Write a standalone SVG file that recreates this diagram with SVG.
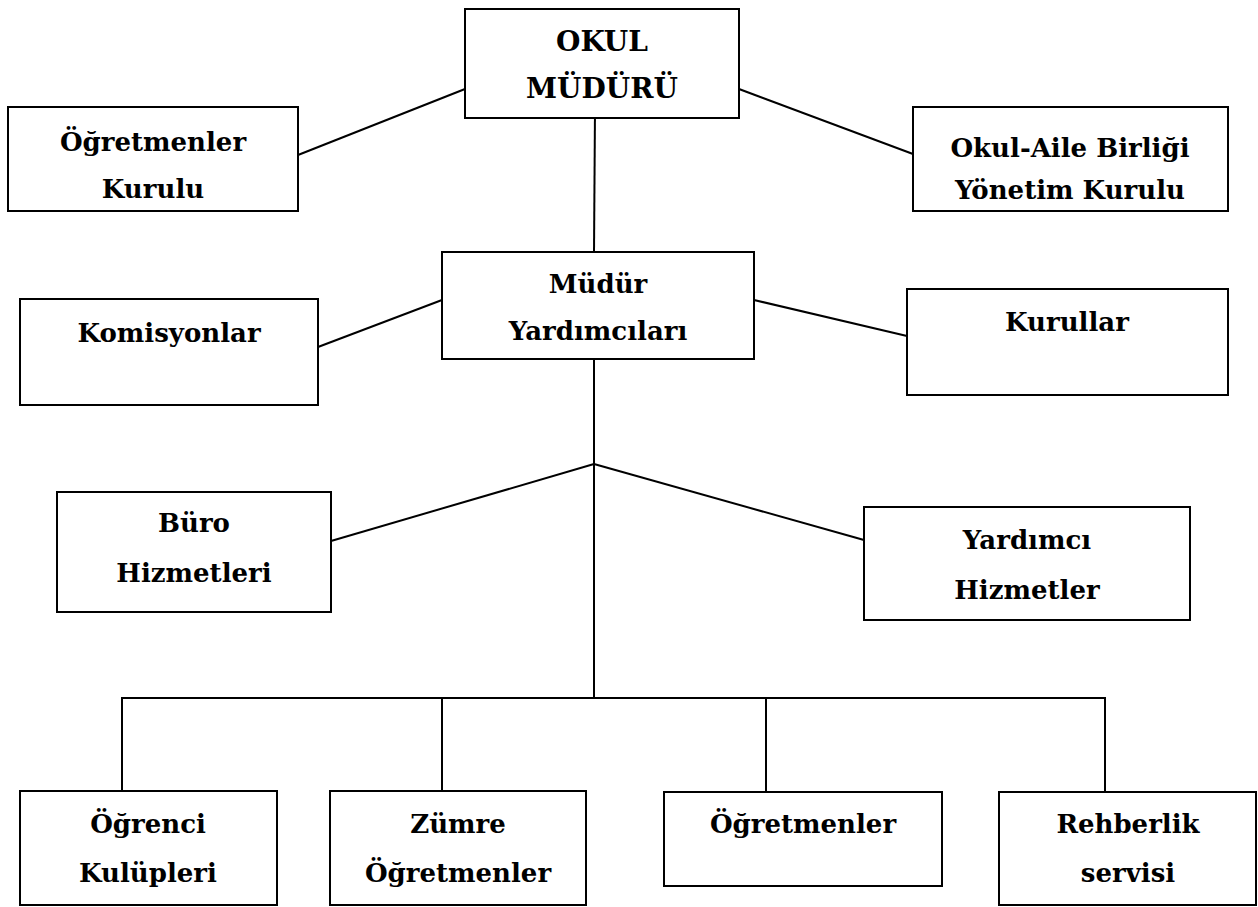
<svg xmlns="http://www.w3.org/2000/svg" width="1258" height="907" viewBox="0 0 1258 907">
<style>
.box{fill:#fff;stroke:#000;stroke-width:2}
.ln{stroke:#000;stroke-width:2;fill:none}
.t{font-family:"DejaVu Serif","Liberation Serif",serif;font-weight:bold;font-size:26px;fill:#000;text-anchor:middle}
.big{font-size:28px}
</style>
<rect width="1258" height="907" fill="#fff"/>
<g id="connectors">
<line class="ln" x1="298" y1="155" x2="465" y2="89"/>
<line class="ln" x1="739" y1="89" x2="913" y2="154"/>
<line class="ln" x1="595" y1="108" x2="594" y2="252"/>
<line class="ln" x1="318" y1="347" x2="442" y2="300"/>
<line class="ln" x1="754" y1="300" x2="907" y2="336"/>
<line class="ln" x1="594" y1="359" x2="594" y2="698"/>
<line class="ln" x1="331" y1="541" x2="594" y2="464"/>
<line class="ln" x1="594" y1="464" x2="864" y2="540"/>
<line class="ln" x1="121" y1="698" x2="1106" y2="698"/>
<line class="ln" x1="122" y1="698" x2="122" y2="791"/>
<line class="ln" x1="442" y1="698" x2="442" y2="791"/>
<line class="ln" x1="766" y1="698" x2="766" y2="792"/>
<line class="ln" x1="1105" y1="698" x2="1105" y2="792"/>
</g>
<g id="okul-muduru">
<rect class="box" x="465" y="9" width="274" height="109"/>
<text class="t big" x="602" y="51">OKUL</text>
<text class="t big" x="602" y="98">MÜDÜRÜ</text>
</g>
<g id="ogretmenler-kurulu">
<rect class="box" x="8" y="107" width="290" height="104"/>
<text class="t" x="153" y="151">Öğretmenler</text>
<text class="t" x="153" y="198">Kurulu</text>
</g>
<g id="okul-aile">
<rect class="box" x="913" y="107" width="315" height="104"/>
<text class="t" x="1070" y="157">Okul-Aile Birliği</text>
<text class="t" x="1070" y="199">Yönetim Kurulu</text>
</g>
<g id="mudur-yardimcilari">
<rect class="box" x="442" y="252" width="312" height="107"/>
<text class="t" x="598" y="293">Müdür</text>
<text class="t" x="598" y="340">Yardımcıları</text>
</g>
<g id="komisyonlar">
<rect class="box" x="20" y="299" width="298" height="106"/>
<text class="t" x="169" y="342">Komisyonlar</text>
</g>
<g id="kurullar">
<rect class="box" x="907" y="289" width="321" height="106"/>
<text class="t" x="1067" y="331">Kurullar</text>
</g>
<g id="buro-hizmetleri">
<rect class="box" x="57" y="492" width="274" height="120"/>
<text class="t" x="194" y="532">Büro</text>
<text class="t" x="194" y="582">Hizmetleri</text>
</g>
<g id="yardimci-hizmetler">
<rect class="box" x="864" y="507" width="326" height="113"/>
<text class="t" x="1027" y="549">Yardımcı</text>
<text class="t" x="1027" y="599">Hizmetler</text>
</g>
<g id="ogrenci-kulupleri">
<rect class="box" x="20" y="791" width="257" height="114"/>
<text class="t" x="148" y="833">Öğrenci</text>
<text class="t" x="148" y="882">Kulüpleri</text>
</g>
<g id="zumre-ogretmenler">
<rect class="box" x="330" y="791" width="256" height="114"/>
<text class="t" x="458" y="833">Zümre</text>
<text class="t" x="458" y="882">Öğretmenler</text>
</g>
<g id="ogretmenler">
<rect class="box" x="664" y="792" width="278" height="94"/>
<text class="t" x="803" y="833">Öğretmenler</text>
</g>
<g id="rehberlik-servisi">
<rect class="box" x="999" y="792" width="257" height="113"/>
<text class="t" x="1128" y="833">Rehberlik</text>
<text class="t" x="1128" y="882">servisi</text>
</g>
</svg>
